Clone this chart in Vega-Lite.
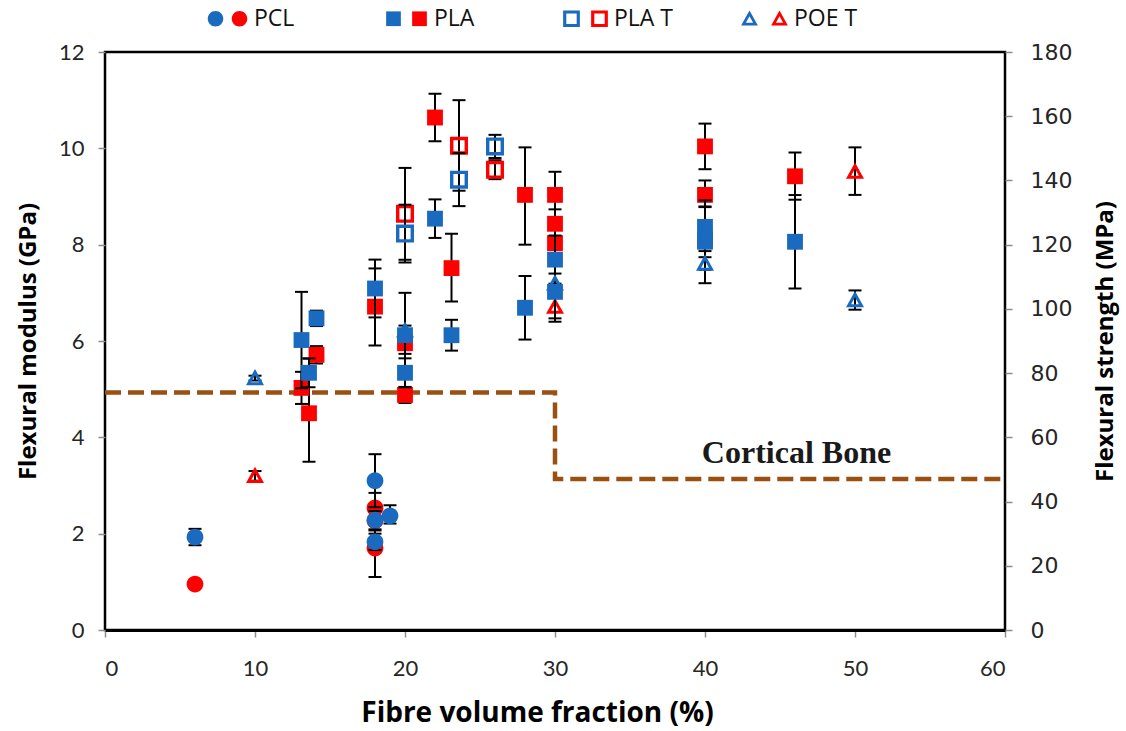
{
  "$schema": "https://vega.github.io/schema/vega-lite/v6.json",
  "width": 900,
  "height": 578,
  "autosize": {"type": "none"},
  "padding": {"left": 105, "top": 52, "right": 121, "bottom": 101},
  "background": "white",
  "datasets": {
    "modulus": [
      {"x": 6, "series": "PCL", "gpa": 1.93, "lo": 1.76, "hi": 2.10},
      {"x": 18, "series": "PCL", "gpa": 3.10, "lo": 2.55, "hi": 3.65},
      {"x": 18, "series": "PCL", "gpa": 2.28, "lo": 2.09, "hi": 2.47},
      {"x": 18, "series": "PCL", "gpa": 1.83, "lo": 1.66, "hi": 2.00},
      {"x": 19, "series": "PCL", "gpa": 2.37, "lo": 2.21, "hi": 2.59},
      {"x": 13.1, "series": "PLA", "gpa": 6.02, "lo": 5.02, "hi": 7.02},
      {"x": 13.6, "series": "PLA", "gpa": 5.34, "lo": 5.04, "hi": 5.64},
      {"x": 14.1, "series": "PLA", "gpa": 6.47, "lo": 6.31, "hi": 6.63},
      {"x": 18, "series": "PLA", "gpa": 7.09, "lo": 6.49, "hi": 7.69},
      {"x": 20, "series": "PLA", "gpa": 6.12, "lo": 5.24, "hi": 7.00},
      {"x": 20, "series": "PLA", "gpa": 5.34, "lo": 5.04, "hi": 5.64},
      {"x": 22, "series": "PLA", "gpa": 8.54, "lo": 8.14, "hi": 8.94},
      {"x": 23.1, "series": "PLA", "gpa": 6.12, "lo": 5.80, "hi": 6.44},
      {"x": 28, "series": "PLA", "gpa": 6.69, "lo": 6.03, "hi": 7.35},
      {"x": 30, "series": "PLA", "gpa": 7.69, "lo": 7.19, "hi": 8.19},
      {"x": 30, "series": "PLA", "gpa": 7.02, "lo": 6.47, "hi": 7.57},
      {"x": 40, "series": "PLA", "gpa": 8.37, "lo": 7.96, "hi": 8.78},
      {"x": 40, "series": "PLA", "gpa": 8.06, "lo": 7.20, "hi": 8.92},
      {"x": 46, "series": "PLA", "gpa": 8.06, "lo": 7.09, "hi": 9.03},
      {"x": 20, "series": "PLA T", "gpa": 8.23, "lo": 7.63, "hi": 8.83},
      {"x": 23.6, "series": "PLA T", "gpa": 9.35, "lo": 8.80, "hi": 9.90},
      {"x": 26, "series": "PLA T", "gpa": 10.04, "lo": 9.80, "hi": 10.28},
      {"x": 10, "series": "POE T", "gpa": 5.23, "lo": 5.18, "hi": 5.28},
      {"x": 20, "series": "POE T", "gpa": 6.22, "lo": 6.12, "hi": 6.32},
      {"x": 30, "series": "POE T", "gpa": 7.20, "lo": 7.00, "hi": 7.40},
      {"x": 40, "series": "POE T", "gpa": 7.61, "lo": 7.48, "hi": 7.74},
      {"x": 50, "series": "POE T", "gpa": 6.85, "lo": 6.65, "hi": 7.05}
    ],
    "strength": [
      {"x": 6, "series": "PCL", "mpa": 14.3, "lo": 13.8, "hi": 14.8},
      {"x": 18, "series": "PCL", "mpa": 38, "lo": 33.3, "hi": 42.7},
      {"x": 18, "series": "PCL", "mpa": 34, "lo": 31, "hi": 37},
      {"x": 18, "series": "PCL", "mpa": 25.5, "lo": 16.5, "hi": 34.5},
      {"x": 13.1, "series": "PLA", "mpa": 75.4, "lo": 70.4, "hi": 80.4},
      {"x": 13.6, "series": "PLA", "mpa": 67.5, "lo": 52.4, "hi": 84.5},
      {"x": 14.1, "series": "PLA", "mpa": 85.7, "lo": 83, "hi": 88.4},
      {"x": 18, "series": "PLA", "mpa": 100.7, "lo": 88.6, "hi": 112.6},
      {"x": 20, "series": "PLA", "mpa": 89.3, "lo": 86, "hi": 92.6},
      {"x": 20, "series": "PLA", "mpa": 73.2, "lo": 70.7, "hi": 75.7},
      {"x": 22, "series": "PLA", "mpa": 159.6, "lo": 152.2, "hi": 167},
      {"x": 23.1, "series": "PLA", "mpa": 112.7, "lo": 102.3, "hi": 123.4},
      {"x": 28, "series": "PLA", "mpa": 135.5, "lo": 120, "hi": 150.3},
      {"x": 30, "series": "PLA", "mpa": 135.5, "lo": 128.3, "hi": 142.7},
      {"x": 30, "series": "PLA", "mpa": 126.5, "lo": 122, "hi": 131},
      {"x": 30, "series": "PLA", "mpa": 120.5, "lo": 116, "hi": 125},
      {"x": 40, "series": "PLA", "mpa": 150.6, "lo": 143.5, "hi": 157.7},
      {"x": 40, "series": "PLA", "mpa": 135.5, "lo": 131.9, "hi": 140},
      {"x": 40, "series": "PLA", "mpa": 121.7, "lo": 118, "hi": 125.5},
      {"x": 46, "series": "PLA", "mpa": 141.3, "lo": 134, "hi": 148.7},
      {"x": 20, "series": "PLA T", "mpa": 129.6, "lo": 115.3, "hi": 143.9},
      {"x": 23.6, "series": "PLA T", "mpa": 150.8, "lo": 136.8, "hi": 165},
      {"x": 26, "series": "PLA T", "mpa": 143.3, "lo": 140.4, "hi": 146.3},
      {"x": 10, "series": "POE T", "mpa": 48, "lo": 46.5, "hi": 49.5},
      {"x": 30, "series": "POE T", "mpa": 100.7, "lo": 96, "hi": 105.4},
      {"x": 50, "series": "POE T", "mpa": 142.8, "lo": 135.5, "hi": 150.3}
    ],
    "bone": [
      {"x": 0, "mpa": 74},
      {"x": 30, "mpa": 47},
      {"x": 60, "mpa": 47}
    ],
    "boneLabel": [
      {"x": 46.1, "mpa": 55, "label": "Cortical Bone"}
    ]
  },
  "layer": [
    {
      "layer": [
        {
          "data": {"name": "bone"},
          "mark": {"type": "line", "interpolate": "step-after", "color": "#9A5010", "strokeWidth": 4.5, "strokeDash": [16, 7]},
          "encoding": {
            "x": {"field": "x", "type": "quantitative", "scale": {"domain": [0, 60]}, "axis": {"values": [0, 10, 20, 30, 40, 50, 60], "titleX": 432, "titleAlign": "center"}, "title": "Fibre volume fraction (%)"},
            "y": {"field": "mpa", "type": "quantitative", "scale": {"domain": [0, 180]}, "axis": {"orient": "right", "values": [0, 20, 40, 60, 80, 100, 120, 140, 160, 180]}, "title": "Flexural strength (MPa)"}
          }
        },
        {
          "data": {"name": "boneLabel"},
          "mark": {"type": "text", "font": "Liberation Serif", "fontWeight": "bold", "fontSize": 32, "color": "#1a1a1a", "align": "center", "baseline": "middle"},
          "encoding": {
            "x": {"field": "x", "type": "quantitative", "scale": {"domain": [0, 60]}, "title": "Fibre volume fraction (%)"},
            "y": {"field": "mpa", "type": "quantitative", "scale": {"domain": [0, 180]}, "title": "Flexural strength (MPa)"},
            "text": {"field": "label"}
          }
        },
        {
          "data": {"name": "strength"},
          "mark": {"type": "rule", "color": "#000", "strokeWidth": 2},
          "encoding": {
            "x": {"field": "x", "type": "quantitative", "scale": {"domain": [0, 60]}, "title": "Fibre volume fraction (%)"},
            "y": {"field": "lo", "type": "quantitative", "scale": {"domain": [0, 180]}, "title": "Flexural strength (MPa)"},
            "y2": {"field": "hi"}
          }
        },
        {
          "data": {"name": "strength"},
          "mark": {"type": "tick", "orient": "horizontal", "color": "#000", "thickness": 2, "size": 13, "opacity": 1},
          "encoding": {
            "x": {"field": "x", "type": "quantitative", "scale": {"domain": [0, 60]}, "title": "Fibre volume fraction (%)"},
            "y": {"field": "lo", "type": "quantitative", "scale": {"domain": [0, 180]}, "title": "Flexural strength (MPa)"}
          }
        },
        {
          "data": {"name": "strength"},
          "mark": {"type": "tick", "orient": "horizontal", "color": "#000", "thickness": 2, "size": 13, "opacity": 1},
          "encoding": {
            "x": {"field": "x", "type": "quantitative", "scale": {"domain": [0, 60]}, "title": "Fibre volume fraction (%)"},
            "y": {"field": "hi", "type": "quantitative", "scale": {"domain": [0, 180]}, "title": "Flexural strength (MPa)"}
          }
        },
        {
          "data": {"name": "strength"},
          "mark": {"type": "point", "filled": true, "size": 324, "color": "#FF0000", "opacity": 1, "strokeWidth": 0},
          "encoding": {
            "x": {"field": "x", "type": "quantitative", "scale": {"domain": [0, 60]}, "title": "Fibre volume fraction (%)"},
            "y": {"field": "mpa", "type": "quantitative", "scale": {"domain": [0, 180]}, "title": "Flexural strength (MPa)"},
            "shape": {
              "field": "series", "type": "nominal",
              "scale": {
                "domain": ["PCL", "PLA", "PLA T", "POE T"],
                "range": [
                  "M-0.93,0A0.93,0.93 0 1,1 0.93,0A0.93,0.93 0 1,1 -0.93,0Z",
                  "M-0.88,-0.88L0.88,-0.88L0.88,0.88L-0.88,0.88Z",
                  "M-1,-1L1,-1L1,1L-1,1Z M-0.62,-0.62L-0.62,0.62L0.62,0.62L0.62,-0.62Z",
                  "M0,-1L1,0.8L-1,0.8Z M0,-0.3L-0.43,0.47L0.43,0.47Z"
                ]
              },
              "legend": {"orient": "none", "legendX": 123, "legendY": -45, "direction": "horizontal", "columns": 4, "gridAlign": "all", "columnPadding": 90, "title": null, "symbolSize": 280, "symbolFillColor": "#FF0000", "symbolStrokeWidth": 0, "symbolOpacity": 1, "labelFont": "Open Sans", "labelFontSize": 23, "labelColor": "#111", "labelOffset": 3, "padding": 0}
            }
          }
        }
      ]
    },
    {
      "layer": [
        {
          "data": {"name": "modulus"},
          "mark": {"type": "rule", "color": "#000", "strokeWidth": 2},
          "encoding": {
            "x": {"field": "x", "type": "quantitative", "scale": {"domain": [0, 60]}, "title": "Fibre volume fraction (%)"},
            "y": {"field": "lo", "type": "quantitative", "scale": {"domain": [0, 12]}, "axis": {"orient": "left", "values": [0, 2, 4, 6, 8, 10, 12]}, "title": "Flexural modulus (GPa)"},
            "y2": {"field": "hi"}
          }
        },
        {
          "data": {"name": "modulus"},
          "mark": {"type": "tick", "orient": "horizontal", "color": "#000", "thickness": 2, "size": 13, "opacity": 1},
          "encoding": {
            "x": {"field": "x", "type": "quantitative", "scale": {"domain": [0, 60]}, "title": "Fibre volume fraction (%)"},
            "y": {"field": "lo", "type": "quantitative", "scale": {"domain": [0, 12]}, "title": "Flexural modulus (GPa)"}
          }
        },
        {
          "data": {"name": "modulus"},
          "mark": {"type": "tick", "orient": "horizontal", "color": "#000", "thickness": 2, "size": 13, "opacity": 1},
          "encoding": {
            "x": {"field": "x", "type": "quantitative", "scale": {"domain": [0, 60]}, "title": "Fibre volume fraction (%)"},
            "y": {"field": "hi", "type": "quantitative", "scale": {"domain": [0, 12]}, "title": "Flexural modulus (GPa)"}
          }
        },
        {
          "data": {"name": "modulus"},
          "mark": {"type": "point", "filled": true, "size": 324, "color": "#1A6BBF", "opacity": 1, "strokeWidth": 0},
          "encoding": {
            "x": {"field": "x", "type": "quantitative", "scale": {"domain": [0, 60]}, "title": "Fibre volume fraction (%)"},
            "y": {"field": "gpa", "type": "quantitative", "scale": {"domain": [0, 12]}, "title": "Flexural modulus (GPa)"},
            "shape": {
              "field": "series", "type": "nominal",
              "scale": {
                "domain": ["PCL", "PLA", "PLA T", "POE T"],
                "range": [
                  "M-0.93,0A0.93,0.93 0 1,1 0.93,0A0.93,0.93 0 1,1 -0.93,0Z",
                  "M-0.88,-0.88L0.88,-0.88L0.88,0.88L-0.88,0.88Z",
                  "M-1,-1L1,-1L1,1L-1,1Z M-0.62,-0.62L-0.62,0.62L0.62,0.62L0.62,-0.62Z",
                  "M0,-1L1,0.8L-1,0.8Z M0,-0.3L-0.43,0.47L0.43,0.47Z"
                ]
              },
              "legend": {"orient": "none", "legendX": 99, "legendY": -45, "direction": "horizontal", "columns": 4, "gridAlign": "all", "columnPadding": 155, "title": null, "symbolSize": 280, "symbolFillColor": "#1A6BBF", "symbolStrokeWidth": 0, "symbolOpacity": 1, "labelExpr": "''", "labelFontSize": 23, "labelOffset": 0, "padding": 0}
            }
          }
        }
      ]
    }
  ],
  "resolve": {
    "scale": {"y": "independent", "shape": "independent"},
    "axis": {"y": "independent"},
    "legend": {"shape": "independent"}
  },
  "config": {
    "view": {"stroke": "#000", "strokeWidth": 2.5},
    "axis": {
      "grid": false,
      "domain": false,
      "labelFont": "Lato",
      "labelFontSize": 22,
      "labelColor": "#262626",
      "tickColor": "#8c8c8c",
      "tickSize": 7,
      "tickWidth": 1.5,
      "titleFont": "Open Sans",
      "titleFontSize": 24,
      "titleFontWeight": "bold",
      "titleColor": "#000"
    },
    "axisBottom": {"domain": true, "domainColor": "#000", "domainWidth": 3, "labelPadding": 21, "titlePadding": 20, "titleFontSize": 28},
    "axisLeft": {"labelPadding": 14, "titlePadding": 18},
    "axisRight": {"labelFont": "DejaVu Sans", "labelFontSize": 22, "labelPadding": 18, "titlePadding": 22, "titleAngle": -90, "titleBaseline": "top"}
  }
}
